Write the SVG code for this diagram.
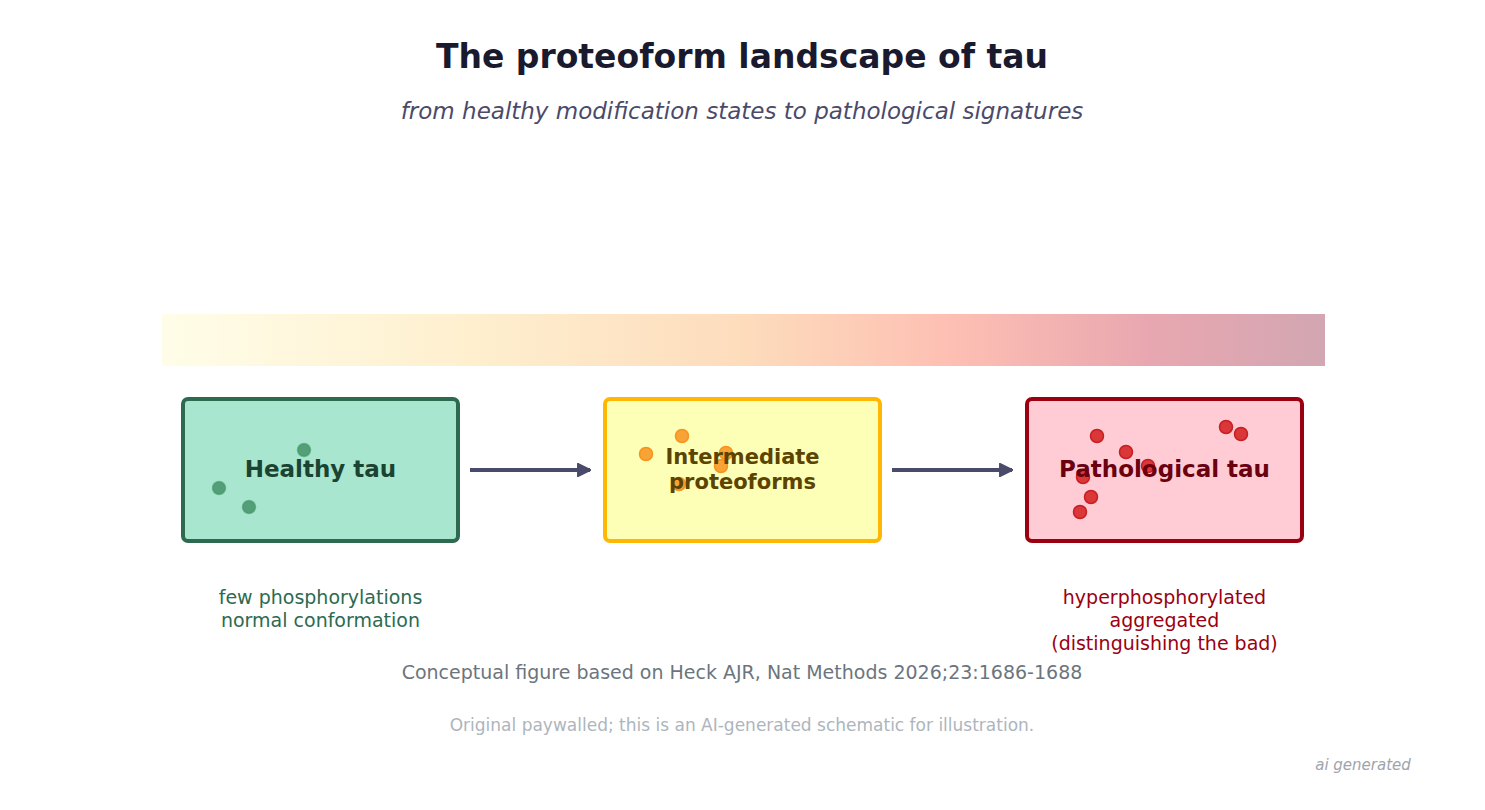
<svg xmlns="http://www.w3.org/2000/svg" width="1485" height="810" viewBox="0 0 1485 810">
<style>
text{font-family:"DejaVu Sans","Noto Sans",sans-serif;text-anchor:middle}
.title{font-size:33px;font-weight:bold;fill:#1a1a2e}
.sub{font-size:23px;font-style:italic;fill:#4a4a6a}
.box{stroke-width:4}
.lbl{font-size:23px;font-weight:bold}
.note{font-size:19px}
.conn{stroke:#4a4a6a;stroke-width:4;fill:none;marker-end:url(#ah)}
.dg{fill:#3d8f62;fill-opacity:0.8;stroke:#3d8f62;stroke-opacity:0.5;stroke-width:1.5}
.do{fill:#f7931e;fill-opacity:0.85;stroke:#f7931e;stroke-width:1.5}
.dr{fill:#d62728;fill-opacity:0.9;stroke:#c81e22;stroke-width:1.5}
</style>
<defs>
<linearGradient id="grad" x1="0" y1="0" x2="1" y2="0">
<stop offset="0" stop-color="#fffde8"/>
<stop offset="0.25" stop-color="#fef0d0"/>
<stop offset="0.5" stop-color="#fddcbc"/>
<stop offset="0.68" stop-color="#fdbfb3"/>
<stop offset="0.85" stop-color="#e8a7b0"/>
<stop offset="1" stop-color="#d2a6b2"/>
</linearGradient>
<marker id="ah" viewBox="0 0 10 10" refX="9" refY="5" markerWidth="3.6" markerHeight="3.6" orient="auto" markerUnits="strokeWidth">
<path d="M0.5,0.5 L9.5,5 L0.5,9.5 Z" fill="#4a4a6a" stroke="#4a4a6a" stroke-width="1" stroke-linejoin="round"/>
</marker>
</defs>
<rect width="1485" height="810" fill="#ffffff"/>
<text class="title" x="742" y="68">The proteoform landscape of tau</text>
<text class="sub" x="742" y="119">from healthy modification states to pathological signatures</text>
<rect x="162" y="314" width="1163" height="52" fill="url(#grad)"/>
<g id="connectors">
<line class="conn" x1="470" y1="470" x2="590" y2="470"/>
<line class="conn" x1="892" y1="470" x2="1012" y2="470"/>
</g>
<g id="healthy">
<rect class="box" x="183" y="399" width="275" height="142" rx="5" fill="#a8e6cf" stroke="#2d6a4f"/>
<circle class="dg" cx="304" cy="450" r="6.5"/>
<circle class="dg" cx="219" cy="488" r="6.5"/>
<circle class="dg" cx="249" cy="507" r="6.5"/>
<text class="lbl" x="320.5" y="477" fill="#1b4332">Healthy tau</text>
<text class="note" x="320.5" y="604" fill="#2d6a4f">few phosphorylations</text>
<text class="note" x="320.5" y="627" fill="#2d6a4f">normal conformation</text>
</g>
<g id="intermediate">
<rect class="box" x="605" y="399" width="275" height="142" rx="5" fill="#fdffb6" stroke="#ffb703"/>
<circle class="do" cx="646" cy="454" r="6.5"/>
<circle class="do" cx="682" cy="436" r="6.5"/>
<circle class="do" cx="726" cy="453" r="6.5"/>
<circle class="do" cx="721" cy="466" r="6.5"/>
<circle class="do" cx="679" cy="484" r="6.5"/>
<text class="lbl" x="742.5" y="464" fill="#5c4300" style="font-size:21px">Intermediate</text>
<text class="lbl" x="742.5" y="489" fill="#5c4300" style="font-size:21px">proteoforms</text>
</g>
<g id="pathological">
<rect class="box" x="1027" y="399" width="275" height="142" rx="5" fill="#ffccd5" stroke="#9b0011"/>
<circle class="dr" cx="1097" cy="436" r="6.5"/>
<circle class="dr" cx="1126" cy="452" r="6.5"/>
<circle class="dr" cx="1148" cy="466" r="6.5"/>
<circle class="dr" cx="1083" cy="477" r="6.5"/>
<circle class="dr" cx="1091" cy="497" r="6.5"/>
<circle class="dr" cx="1080" cy="512" r="6.5"/>
<circle class="dr" cx="1226" cy="427" r="6.5"/>
<circle class="dr" cx="1241" cy="434" r="6.5"/>
<text class="lbl" x="1164.5" y="477" fill="#6a0010">Pathological tau</text>
<text class="note" x="1164.5" y="604" fill="#9b0011">hyperphosphorylated</text>
<text class="note" x="1164.5" y="627" fill="#9b0011">aggregated</text>
<text class="note" x="1164.5" y="650" fill="#9b0011">(distinguishing the bad)</text>
</g>
<text x="742" y="679" style="font-size:19px" fill="#6c757d">Conceptual figure based on Heck AJR, Nat Methods 2026;23:1686-1688</text>
<text x="742" y="731" style="font-size:17px" fill="#adb5bd">Original paywalled; this is an AI-generated schematic for illustration.</text>
<text x="1363" y="770" style="font-size:15px;font-style:italic" fill="#a0a4ab">ai generated</text>
</svg>
